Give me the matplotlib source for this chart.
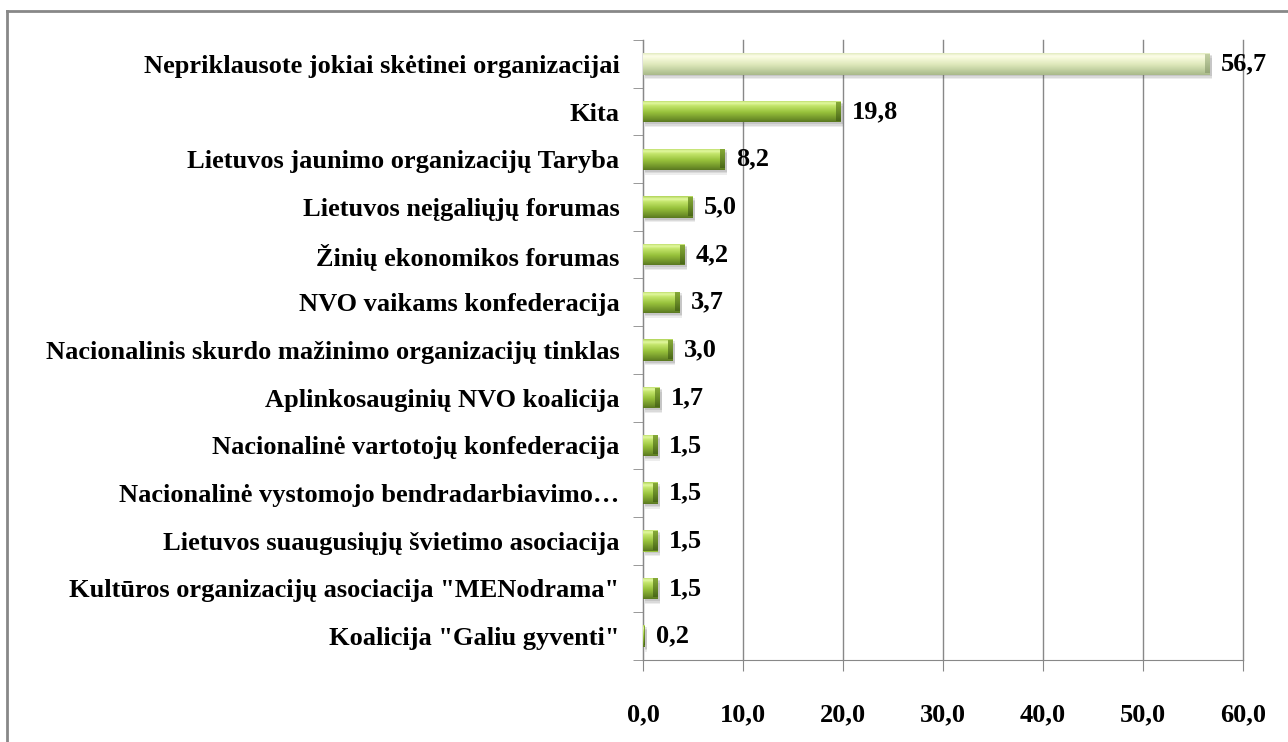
import numpy as np
import matplotlib
matplotlib.use('Agg')
import matplotlib.pyplot as plt
from matplotlib.colors import LinearSegmentedColormap
from matplotlib.lines import Line2D

categories = ['Nepriklausote jokiai skėtinei organizacijai',
              'Kita',
              'Lietuvos jaunimo organizacijų Taryba',
              'Lietuvos neįgaliųjų forumas',
              'Žinių ekonomikos forumas',
              'NVO vaikams konfederacija',
              'Nacionalinis skurdo mažinimo organizacijų tinklas',
              'Aplinkosauginių NVO koalicija',
              'Nacionalinė vartotojų konfederacija',
              'Nacionalinė vystomojo bendradarbiavimo…',
              'Lietuvos suaugusiųjų švietimo asociacija',
              'Kultūros organizacijų asociacija "MENodrama"',
              'Koalicija "Galiu gyventi"']
values = [56.7, 19.8, 8.2, 5.0, 4.2, 3.7, 3.0, 1.7, 1.5, 1.5, 1.5, 1.5, 0.2]
xticks = [0, 10, 20, 30, 40, 50, 60]

FONT = 'Liberation Serif'
FS = 19

green = LinearSegmentedColormap.from_list('g', [
    (0.0, '#5a7820'), (0.12, '#6c8e28'), (0.45, '#98c23c'),
    (0.75, '#c4e66c'), (0.87, '#e2f8a0'), (1.0, '#b0d458')])
green_cap = LinearSegmentedColormap.from_list('gc', [
    (0.0, '#4a6818'), (0.5, '#6a8c28'), (1.0, '#86aa38')])
pale = LinearSegmentedColormap.from_list('p', [
    (0.0, '#a9b98a'), (0.15, '#b8c898'), (0.45, '#dbe6b8'),
    (0.75, '#f4f8d8'), (0.87, '#fcfde8'), (1.0, '#e2ebc0')])
pale_cap = LinearSegmentedColormap.from_list('pc', [
    (0.0, '#96a678'), (0.5, '#aebd90'), (1.0, '#c4d0a4')])

fig = plt.figure(figsize=(12.88, 7.42), dpi=100)
ax = fig.add_axes([643/1288, 1 - 660/742, 600/1288, 620/742])

y = np.arange(len(categories))
h = 0.45

# shadows
for k, a in [(0.10, 0.10), (0.07, 0.12), (0.04, 0.15)]:
    ax.barh(y + k, values, height=h, left=0.15, color='#555555', alpha=a,
            edgecolor='none', zorder=2)

bars = ax.barh(y, values, height=h, color='#98c23c', edgecolor='none', zorder=3)

grad = np.linspace(0, 1, 64).reshape(-1, 1)
for i, b in enumerate(bars):
    x0, y0, w, hh = b.get_x(), b.get_y(), b.get_width(), b.get_height()
    cm, cmc = (pale, pale_cap) if i == 0 else (green, green_cap)
    im = ax.imshow(grad, cmap=cm, aspect='auto', origin='upper',
                   extent=(x0, x0 + w, y0, y0 + hh), zorder=4,
                   interpolation='bilinear')
    im.set_clip_path(b)
    cw = min(0.5, w * 0.5)
    ax.imshow(grad, cmap=cmc, aspect='auto', origin='upper',
              extent=(x0 + w - cw, x0 + w, y0 + hh * 0.08, y0 + hh * 0.92),
              zorder=5, interpolation='bilinear')
    ax.annotate(f'{values[i]:.1f}'.replace('.', ','), (w, y[i]),
                xytext=(8, 0), textcoords='offset points', va='center',
                ha='left', fontsize=FS, fontweight='bold', family=FONT,
                zorder=6)

ax.set_xlim(0, 60)
ax.set_ylim(len(categories) - 0.5, -0.5)
ax.set_xticks(xticks)
ax.set_xticklabels([f'{t:.1f}'.replace('.', ',') for t in xticks],
                   fontsize=FS, fontweight='bold', family=FONT)
ax.set_yticks(y)
ax.set_yticklabels(categories, fontsize=FS, fontweight='bold', family=FONT)
ax.tick_params(axis='y', length=0, pad=17)
ax.set_yticks(np.arange(-0.5, len(categories), 1), minor=True)
ax.tick_params(axis='y', which='minor', length=7, color='#888888')
ax.tick_params(axis='x', length=8, color='#888888', pad=23)
ax.xaxis.grid(True, color='#888888', lw=1)
for gl in ax.get_xgridlines():
    gl.set_clip_on(False)
ax.set_axisbelow(True)
for s in ['top', 'right']:
    ax.spines[s].set_visible(False)
for s in ['left', 'bottom']:
    ax.spines[s].set_color('#888888')

# outer frame
fig.add_artist(Line2D([7/1288, 7/1288], [0, 1 - 11/742], transform=fig.transFigure,
                      color='#888888', lw=2))
fig.add_artist(Line2D([7/1288, 1], [1 - 11/742, 1 - 11/742], transform=fig.transFigure,
                      color='#888888', lw=2))

fig.savefig('out.png', dpi=100)
